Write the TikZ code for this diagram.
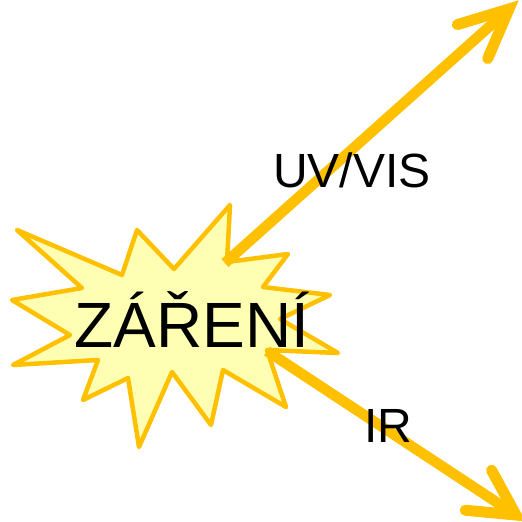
\documentclass[tikz,border=0pt]{standalone}
\usepackage{fontspec}
\setmainfont{Liberation Sans}
\usetikzlibrary{calc}
\definecolor{ray}{RGB}{255,192,0}
\definecolor{flash}{RGB}{255,255,179}
\tikzset{
  burst/.style={draw=ray, fill=flash, line width=4.5pt, line join=round},
  shaft/.style={draw=ray, line width=10.5pt, line cap=butt},
  barb/.style={draw=ray, line width=11pt, line cap=round, line join=miter},
  caption/.style={anchor=base, inner sep=0pt, text=black}
}
\begin{document}
\begin{tikzpicture}[x=1pt, y=-1pt]
  \useasboundingbox (0,0) rectangle (522,522);

  % the explosion-shaped burst
  \draw[burst] (17,230) -- (122,275) -- (137,230) -- (174,269) -- (230,205)
    -- (227,262) -- (288,254) -- (263,287) -- (330,295) -- (280,319)
    -- (338,353) -- (267,350) -- (286,407) -- (223,370) -- (211,425)
    -- (172,372) -- (139,447) -- (128,378) -- (83,400) -- (98,360)
    -- (13,365) -- (70,335) -- (12,300) -- (82,288) -- cycle;

  % arrow ends
  \coordinate (uvfrom) at (225,263);
  \coordinate (uvtip) at (509,9);
  \coordinate (irfrom) at (267,351);
  \coordinate (irtip) at (516,515);

  % UV/VIS arrow
  \draw[shaft, shorten >=5pt] (uvfrom) -- (uvtip);
  \draw[barb] ($(uvtip)!54pt!25:(uvfrom)$) -- (uvtip) -- ($(uvtip)!54pt!-25:(uvfrom)$);

  % IR arrow
  \draw[shaft, shorten >=5pt] (irfrom) -- (irtip);
  \draw[barb] ($(irtip)!51pt!28:(irfrom)$) -- (irtip) -- ($(irtip)!51pt!-28:(irfrom)$);

  % labels
  \node[caption, font=\fontsize{64}{64}\selectfont] (zareni) at (192,347) {ZÁŘENÍ};
  \node[caption, font=\fontsize{48}{48}\selectfont] (uvvis) at (352,187) {UV/VIS};
  \node[caption, font=\fontsize{48}{48}\selectfont] (ir) at (388,442) {IR};
\end{tikzpicture}
\end{document}
